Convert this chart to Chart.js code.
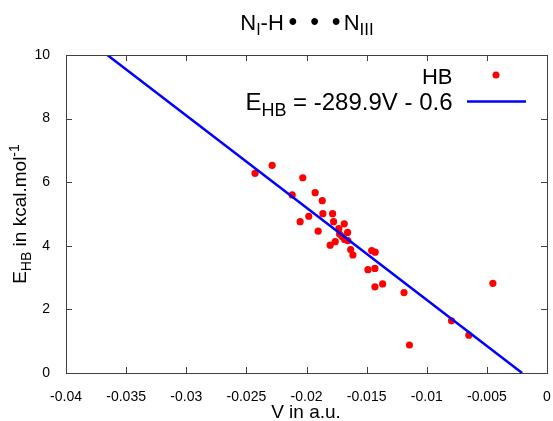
<!DOCTYPE html>
<html>
<head>
<meta charset="utf-8">
<script src="https://cdn.jsdelivr.net/npm/chart.js@4.4.1/dist/chart.umd.min.js"></script>
<style>
  html, body { margin: 0; padding: 0; background: #fff; }
  #chart { display: block; }
</style>
</head>
<body>
<canvas id="chart" width="553" height="421"></canvas>
<script>
// HB data points (V in a.u., E_HB in kcal/mol)
var vValues = [-0.02428, -0.02286, -0.02119, -0.02031, -0.02053, -0.01981, -0.01928, -0.01869,
               -0.01903, -0.01864, -0.01783, -0.01775, -0.01803, -0.01761, -0.01731, -0.01686,
               -0.01658, -0.01725, -0.01703, -0.01683, -0.01656, -0.01633, -0.01614, -0.01458,
               -0.01429, -0.01489, -0.01431, -0.01367, -0.01431, -0.01189, -0.01144, -0.00794,
               -0.0065, -0.0045];
var eValues = [6.28, 6.53, 5.60, 6.14, 4.76, 4.93, 5.67, 5.42,
               4.46, 5.01, 5.01, 4.76, 4.02, 4.13, 4.54, 4.69,
               4.42, 4.37, 4.29, 4.20, 4.16, 3.88, 3.71, 3.85,
               3.80, 3.25, 3.29, 2.80, 2.71, 2.53, 0.88, 1.64,
               1.19, 2.82];
// fit: E = a*V + b
var fitCoef = [-289.9, -0.6];
var xTickValues = [-0.04, -0.035, -0.03, -0.025, -0.02, -0.015, -0.01, -0.005, 0];
var yTickValues = [0, 2, 4, 6, 8, 10];

var FONT = "'Liberation Sans', Arial, sans-serif";

var points = vValues.map(function(v, i){ return {x: v, y: eValues[i]}; });
var fitLine = [10, 0].map(function(e){
    return {x: (e - fitCoef[1]) / fitCoef[0], y: e};
});

/**
 * Draw a string made of pieces (normal, sub, sup, gaps) starting at x.
 */
function richWidth(ctx, parts){
    var w = 0;
    parts.forEach(function(p){
        if (p.gap) { w += p.gap; return; }
        ctx.font = p.size + 'px ' + FONT;
        w += ctx.measureText(p.t).width;
    });
    return w;
}
function drawRich(ctx, parts, x, y, align){
    var w = richWidth(ctx, parts);
    if (align === 'center') x -= w / 2;
    if (align === 'right') x -= w;
    parts.forEach(function(p){
        if (p.gap) { x += p.gap; return; }
        ctx.font = p.size + 'px ' + FONT;
        ctx.fillText(p.t, x, y + (p.dy || 0));
        x += ctx.measureText(p.t).width;
    });
}

var framePlugin = {
    id: 'frame',
    afterDraw: function(chart){
        var ctx = chart.ctx, a = chart.chartArea;
        var xs = chart.scales.x, ys = chart.scales.y;
        ctx.save();
        ctx.strokeStyle = '#404040';
        ctx.lineWidth = 1;
        ctx.strokeRect(Math.round(a.left) + 0.5, Math.round(a.top) + 0.5,
                       Math.round(a.right - a.left), Math.round(a.bottom - a.top));
        ctx.beginPath();
        xTickValues.forEach(function(v){
            var px = Math.round(xs.getPixelForValue(v)) + 0.5;
            ctx.moveTo(px, a.bottom); ctx.lineTo(px, a.bottom - 6);
            ctx.moveTo(px, a.top); ctx.lineTo(px, a.top + 6);
        });
        yTickValues.forEach(function(v){
            var py = Math.round(ys.getPixelForValue(v)) + 0.5;
            ctx.moveTo(a.left, py); ctx.lineTo(a.left + 6, py);
            ctx.moveTo(a.right, py); ctx.lineTo(a.right - 6, py);
        });
        ctx.stroke();

        ctx.fillStyle = '#000';
        ctx.textBaseline = 'alphabetic';
        // title
        drawRich(ctx, [
            {t: 'N', size: 22},
            {t: 'I', size: 16, dy: 5.5},
            {t: '-H', size: 22},
            {gap: 4.8},
            {t: '\u2022', size: 25, dy: 0.5},
            {gap: 12.8},
            {t: '\u2022', size: 25, dy: 0.5},
            {gap: 12.8},
            {t: '\u2022', size: 25, dy: 0.5},
            {gap: 3.2},
            {t: 'N', size: 22},
            {t: 'III', size: 17, dy: 5.5}
        ], 307, 29.5, 'center');

        // x axis title
        drawRich(ctx, [{t: 'V in a.u.', size: 19}], 306, 418, 'center');

        // y axis title
        ctx.save();
        ctx.translate(26, 214);
        ctx.rotate(-Math.PI / 2);
        drawRich(ctx, [
            {t: 'E', size: 19},
            {t: 'HB', size: 14, dy: 5},
            {t: ' in kcal.mol', size: 19},
            {t: '-1', size: 14, dy: -7.5}
        ], 0, 0, 'center');
        ctx.restore();

        // legend
        drawRich(ctx, [{t: 'HB', size: 22}], 452.5, 83.5, 'right');
        drawRich(ctx, [
            {t: 'E', size: 24},
            {t: 'HB', size: 18, dy: 5.5},
            {t: ' = -289.9V - 0.6', size: 24}
        ], 452.5, 110, 'right');
        ctx.fillStyle = '#ff0000';
        ctx.beginPath();
        ctx.arc(496, 75, 3.5, 0, Math.PI * 2);
        ctx.fill();
        ctx.strokeStyle = '#0000ff';
        ctx.lineWidth = 2.5;
        ctx.beginPath();
        ctx.moveTo(467, 101.5); ctx.lineTo(526, 101.5);
        ctx.stroke();
        ctx.restore();
    }
};

var ctx = document.getElementById('chart').getContext('2d');
var myChart = new Chart(ctx, {
    type: 'scatter',
    data: {
        datasets: [{
            label: 'HB',
            data: points,
            backgroundColor: '#ff0000',
            borderWidth: 0,
            pointRadius: 3.6,
            order: 1
        }, {
            type: 'line',
            label: 'fit',
            data: fitLine,
            borderColor: '#0000ff',
            borderWidth: 2.5,
            pointRadius: 0,
            fill: false,
            order: 0
        }]
    },
    options: {
        responsive: false,
        animation: false,
        layout: { padding: { left: 0, top: 55, right: 6, bottom: 0 } },
        plugins: { legend: { display: false }, tooltip: { enabled: false } },
        scales: {
            x: {
                type: 'linear',
                min: -0.04,
                max: 0,
                grid: { display: false },
                border: { display: false },
                afterBuildTicks: function(s){ s.ticks = xTickValues.map(function(v){ return {value: v}; }); },
                afterFit: function(s){ s.height = 48; s.paddingLeft = 0; s.paddingRight = 0; },
                ticks: {
                    padding: 8,
                    color: '#000',
                    font: { family: FONT, size: 14 },
                    maxRotation: 0,
                    callback: function(v){ return String(v); }
                }
            },
            y: {
                type: 'linear',
                min: 0,
                max: 10,
                grid: { display: false },
                border: { display: false },
                afterBuildTicks: function(s){ s.ticks = yTickValues.map(function(v){ return {value: v}; }); },
                afterFit: function(s){ s.width = 66; s.paddingTop = 0; s.paddingBottom = 0; },
                ticks: {
                    padding: 8,
                    color: '#000',
                    font: { family: FONT, size: 14 },
                    callback: function(v){ return String(v); }
                }
            }
        }
    },
    plugins: [framePlugin]
});
</script>
</body>
</html>
